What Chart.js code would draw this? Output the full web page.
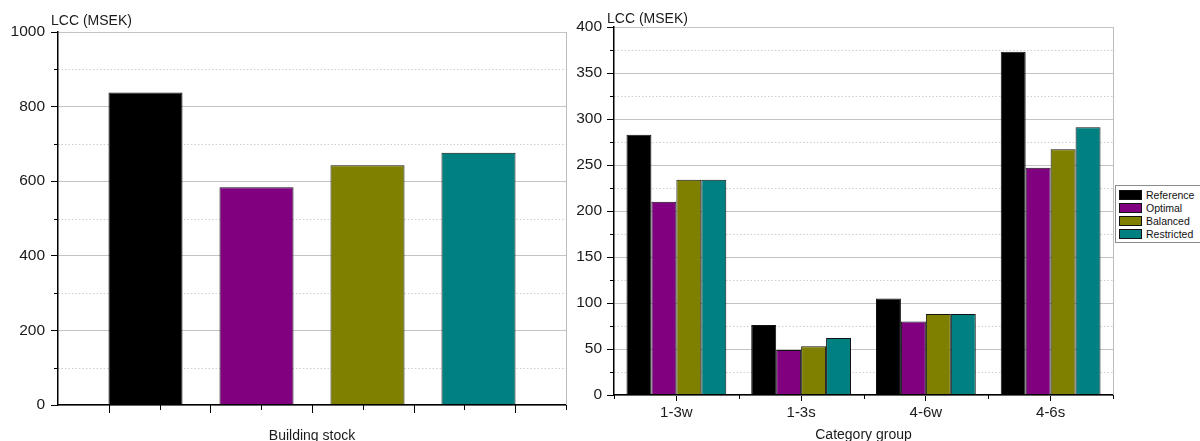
<!DOCTYPE html>
<html>
<head>
<meta charset="utf-8">
<title>LCC by strategy</title>
<script src="https://cdn.jsdelivr.net/npm/chart.js@4.4.1/dist/chart.umd.min.js"></script>
<style>
  html, body { margin: 0; padding: 0; background: #fff; width: 1200px; height: 441px; overflow: hidden; }
  canvas { position: absolute; top: 0; }
  #stockChart { left: 0; }
  #groupChart { left: 570px; }
  #legend {
    position: absolute; left: 1115px; top: 185px; width: 82px;
    border: 1px solid #8c8c8c; background: #fff; padding: 2px 0 2px 3px;
    font: 10.5px "Liberation Sans", Arial, sans-serif; color: #111;
  }
  #legend .row { display: flex; align-items: center; height: 13px; }
  #legend .sw { width: 23px; height: 10px; border: 1px solid #111; margin-right: 4px; box-sizing: border-box; }
</style>
</head>
<body>
<canvas id="stockChart" width="575" height="445"></canvas>
<canvas id="groupChart" width="630" height="444"></canvas>
<div id="legend"></div>
<script>
// Strategies (series) and their fill colours
const strategies = ['Reference', 'Optimal', 'Balanced', 'Restricted'];
const strategyColors = ['#000000', '#800080', '#808000', '#008080'];

// Whole building stock, life-cycle cost per strategy (MSEK)
const stockLcc = [838, 584, 643, 676];

// Category groups and LCC per strategy (MSEK)
const groups = ['1-3w', '1-3s', '4-6w', '4-6s'];
const referenceLcc = [283, 76, 105, 373];
const optimalLcc = [210, 49, 80, 247];
const balancedLcc = [234, 53, 88, 267];
const restrictedLcc = [234, 62, 88, 291];

// Axis tick values
const stockMajorTicks = [0, 200, 400, 600, 800, 1000];
const stockMinorTicks = [100, 300, 500, 700, 900];
const groupMajorTicks = [0, 50, 100, 150, 200, 250, 300, 350, 400];
const groupMinorTicks = [25, 75, 125, 175, 225, 275, 325, 375];

const FONT = '"Liberation Sans", Arial, sans-serif';
const INK = '#1a1a1a';

function strokeLine(ctx, x1, y1, x2, y2) {
  ctx.beginPath(); ctx.moveTo(x1, y1); ctx.lineTo(x2, y2); ctx.stroke();
}

// Dotted minor grid, minor tick marks, frame edge, extra x ticks and the y-axis caption
const axisDecor = {
  id: 'axisDecor',
  beforeDatasetsDraw(chart, _args, o) {
    const { ctx, chartArea: a } = chart;
    const y = chart.scales.y;
    ctx.save();
    ctx.strokeStyle = '#cfcfcf';
    ctx.lineWidth = 1;
    ctx.setLineDash([1.5, 2]);
    o.minorValues.forEach(v => {
      const py = Math.round(y.getPixelForValue(v)) + 0.5;
      strokeLine(ctx, a.left, py, a.right, py);
    });
    ctx.restore();
  },
  afterDraw(chart, _args, o) {
    const { ctx, chartArea: a } = chart;
    const y = chart.scales.y;
    ctx.save();
    ctx.lineWidth = 1;
    ctx.strokeStyle = '#bdbdbd';
    const rx = Math.round(a.right) + 0.5;
    strokeLine(ctx, rx, a.top, rx, a.bottom);

    ctx.strokeStyle = '#000';
    o.minorValues.forEach(v => {
      const py = Math.round(y.getPixelForValue(v)) + 0.5;
      strokeLine(ctx, a.left - 4, py, a.left, py);
    });
    o.xTicks(chart).forEach(([px, len]) => {
      const x = Math.round(px) + 0.5;
      strokeLine(ctx, x, a.bottom, x, a.bottom + len);
    });

    ctx.fillStyle = INK;
    ctx.font = '14px ' + FONT;
    ctx.textAlign = 'left';
    ctx.textBaseline = 'middle';
    ctx.fillText('LCC (MSEK)', a.left - 7, a.top - o.titleLift);
    ctx.restore();
  }
};

function yAxis(major, max, width, pad) {
  return {
    min: 0, max: max,
    afterBuildTicks: s => { s.ticks = major.map(v => ({ value: v })); },
    afterFit: s => { s.width = width; },
    ticks: { color: INK, font: { family: FONT, size: 15.5 }, padding: pad, callback: v => String(v) },
    grid: { color: '#c4c4c4', lineWidth: 1, tickLength: 7, tickColor: '#000' },
    border: { color: '#000', width: 1.5, z: 1 }
  };
}

// Left panel: whole building stock, one group of four bars
new Chart(document.getElementById('stockChart'), {
  type: 'bar',
  data: {
    labels: [''],
    datasets: strategies.map((name, i) => ({
      label: name,
      data: [stockLcc[i]],
      backgroundColor: strategyColors[i],
      borderColor: '#111111',
      borderWidth: 1,
      categoryPercentage: 0.874,
      barPercentage: 0.667
    }))
  },
  options: {
    responsive: false,
    animation: false,
    layout: { padding: { top: 32, right: 9, left: 0, bottom: 0 } },
    plugins: {
      legend: { display: false },
      tooltip: { enabled: false },
      axisDecor: {
        minorValues: stockMinorTicks,
        titleLift: 11,
        xTicks: chart => {
          const a = chart.chartArea, out = [];
          for (let k = 1; k <= 10; k++) out.push([a.left + k * (a.right - a.left) / 10, k % 2 ? 8 : 5]);
          return out;
        }
      }
    },
    scales: {
      x: {
        afterFit: s => { s.height = 40; },
        ticks: { display: false },
        grid: { display: false },
        border: { color: '#000', width: 1.5, z: 1 },
        title: { display: true, text: 'Building stock', color: INK, font: { family: FONT, size: 14 }, padding: { top: 0, bottom: 0 } }
      },
      y: yAxis(stockMajorTicks, 1000, 58, 6)
    }
  },
  plugins: [axisDecor]
});

// Right panel: category groups, four strategies each
const groupSeries = [referenceLcc, optimalLcc, balancedLcc, restrictedLcc];
new Chart(document.getElementById('groupChart'), {
  type: 'bar',
  data: {
    labels: groups,
    datasets: strategies.map((name, i) => ({
      label: name,
      data: groupSeries[i],
      backgroundColor: strategyColors[i],
      borderColor: '#111111',
      borderWidth: 1,
      categoryPercentage: 0.8,
      barPercentage: 1.0
    }))
  },
  options: {
    responsive: false,
    animation: false,
    layout: { padding: { top: 27, right: 87, left: 0, bottom: 0 } },
    plugins: {
      legend: { display: false },
      tooltip: { enabled: false },
      axisDecor: {
        minorValues: groupMinorTicks,
        titleLift: 8,
        xTicks: chart => {
          const a = chart.chartArea, out = [];
          const n = groups.length;
          for (let k = 0; k <= n; k++) out.push([a.left + k * (a.right - a.left) / n, 4]);
          return out;
        }
      }
    },
    scales: {
      x: {
        afterFit: s => { s.height = 49; },
        ticks: { color: INK, font: { family: FONT, size: 15 }, padding: 3 },
        grid: { drawOnChartArea: false, offset: false, tickLength: 6, tickColor: '#000' },
        border: { color: '#000', width: 1.5, z: 1 },
        title: { display: true, text: 'Category group', color: INK, font: { family: FONT, size: 14 }, padding: { top: 0, bottom: 0 } }
      },
      y: yAxis(groupMajorTicks, 400, 44, 5)
    }
  },
  plugins: [axisDecor]
});

// Legend box for the strategies
const legendEl = document.getElementById('legend');
strategies.forEach((name, i) => {
  const row = document.createElement('div');
  row.className = 'row';
  const sw = document.createElement('span');
  sw.className = 'sw';
  sw.style.background = strategyColors[i];
  const tx = document.createElement('span');
  tx.textContent = name;
  row.appendChild(sw); row.appendChild(tx);
  legendEl.appendChild(row);
});
</script>
</body>
</html>
